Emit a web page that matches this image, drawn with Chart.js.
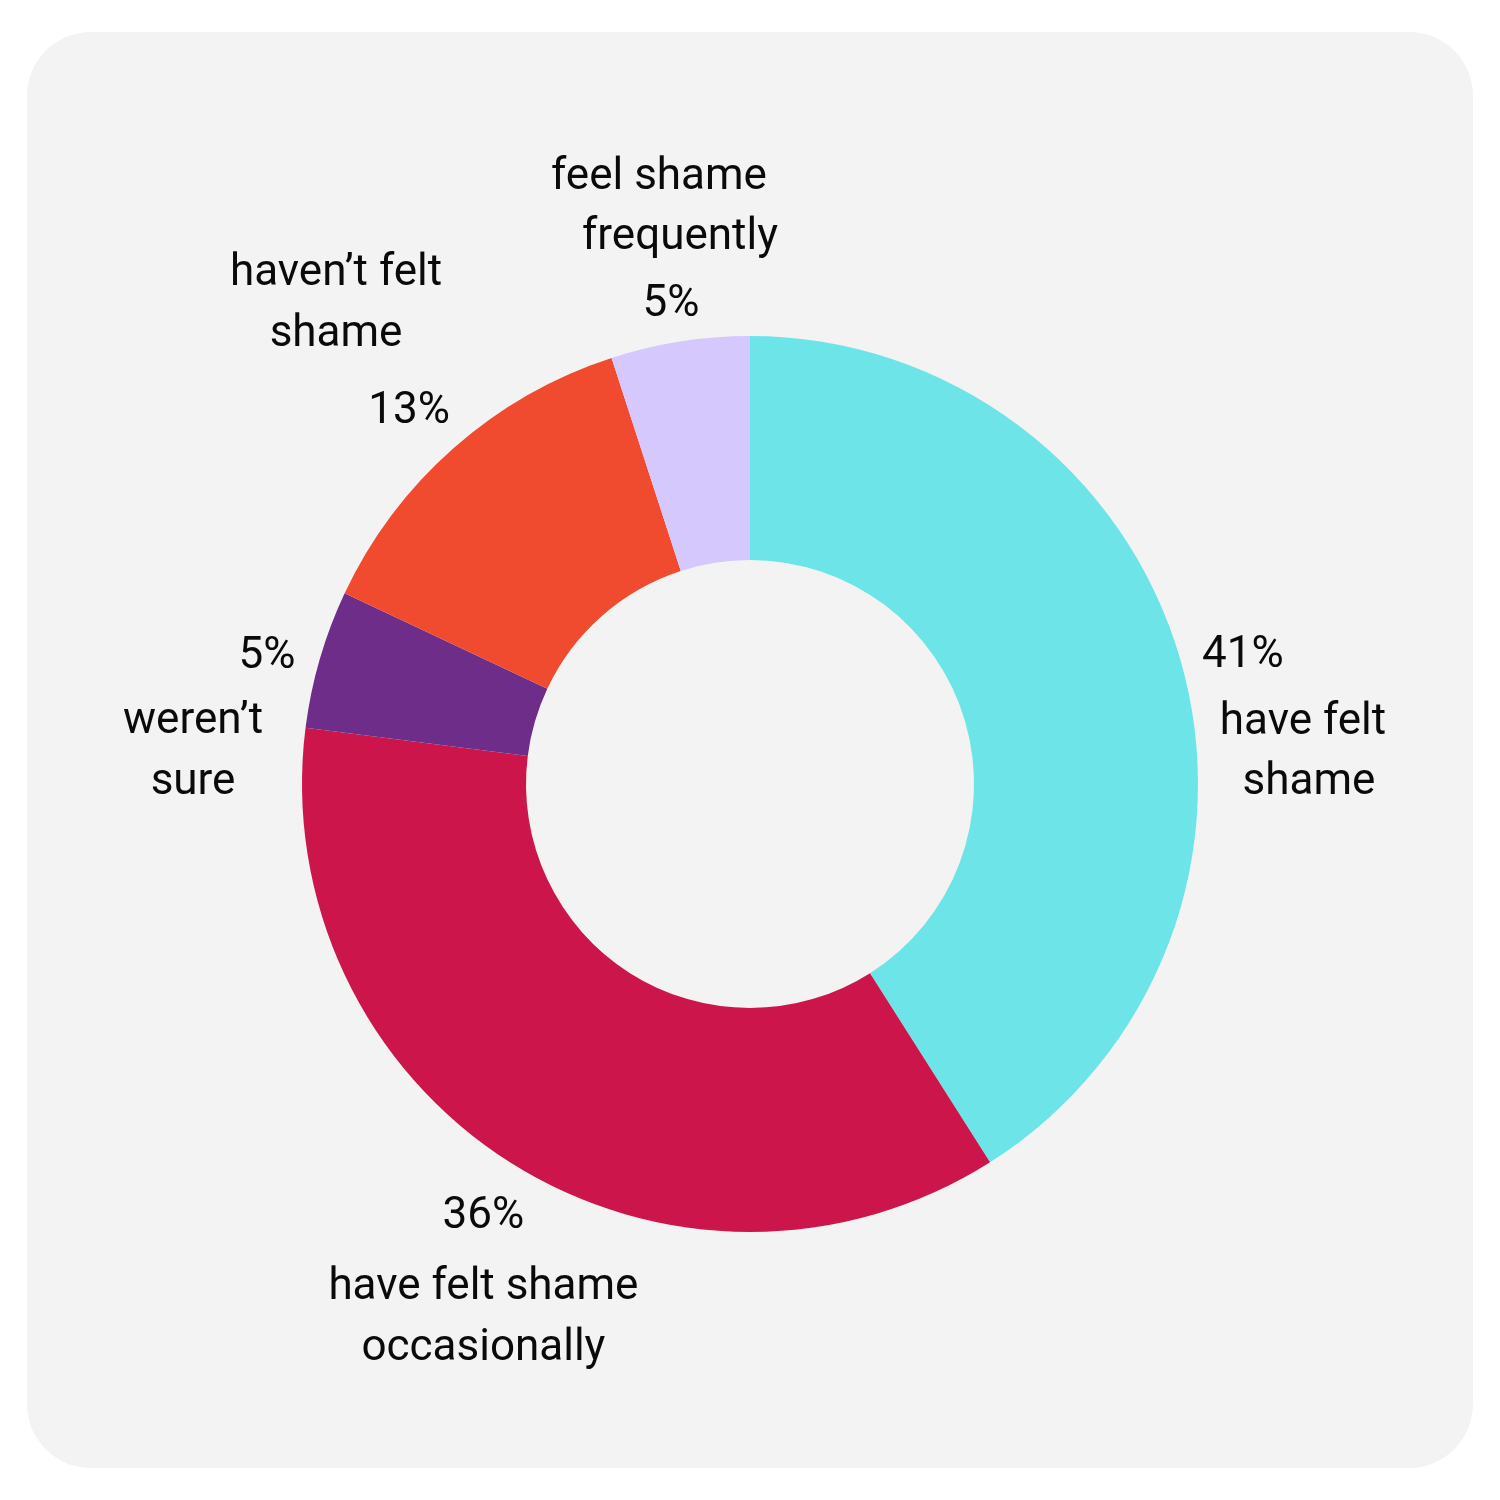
<!DOCTYPE html>
<html>
<head>
<meta charset="utf-8">
<script src="https://cdn.jsdelivr.net/npm/chart.js@4.4.1/dist/chart.umd.min.js"></script>
<style>
  html, body { margin: 0; padding: 0; background: #ffffff; }
  #wrap { width: 1500px; height: 1500px; }
</style>
</head>
<body>
<div id="wrap"><canvas id="c" width="1500" height="1500"></canvas></div>
<script>
// ---- data ----
const categories = [
  "have felt shame",
  "have felt shame occasionally",
  "weren\u2019t sure",
  "haven\u2019t felt shame",
  "feel shame frequently"
];
const values = [41, 36, 5, 13, 5];
const nameLines = [
  ["have felt", "shame"],
  ["have felt shame", "occasionally"],
  ["weren\u2019t", "sure"],
  ["haven\u2019t felt", "shame"],
  ["feel shame", "frequently"]
];
const colors = ["#6de5e8", "#cc164b", "#6e2d88", "#f04a2f", "#d4c8fd"];

// ---- label layout (offsets from slice mid-angle anchor, baseline) ----
const labelLayout = [
  { pct: [8, 24],  names: [[68, 91], [74, 151]] },
  { pct: [4, 18],  names: [[4, 89], [4, 150]] },
  { pct: [2, 25],  names: [[-72, 90], [-72, 151]] },
  { pct: [-7, 18], names: [[-80, -120], [-80, -59]] },
  { pct: [0, 31],  names: [[-12, -96], [9, -36]] }
];

const panelPlugin = {
  id: 'panel',
  beforeDraw(chart) {
    const ctx = chart.ctx;
    ctx.save();
    ctx.fillStyle = '#ffffff';
    ctx.fillRect(0, 0, chart.width, chart.height);
    const x = 27, y = 32, w = 1446, h = 1436, r = 64;
    ctx.beginPath();
    ctx.moveTo(x + r, y);
    ctx.lineTo(x + w - r, y);
    ctx.arcTo(x + w, y, x + w, y + r, r);
    ctx.lineTo(x + w, y + h - r);
    ctx.arcTo(x + w, y + h, x + w - r, y + h, r);
    ctx.lineTo(x + r, y + h);
    ctx.arcTo(x, y + h, x, y + h - r, r);
    ctx.lineTo(x, y + r);
    ctx.arcTo(x, y, x + r, y, r);
    ctx.closePath();
    ctx.fillStyle = '#f3f3f3';
    ctx.fill();
    ctx.restore();
  }
};

const labelPlugin = {
  id: 'sliceLabels',
  afterDatasetsDraw(chart) {
    const ctx = chart.ctx;
    const meta = chart.getDatasetMeta(0);
    ctx.save();
    ctx.font = '44px Roboto';
    ctx.fillStyle = '#0a0a0a';
    ctx.textAlign = 'center';
    ctx.textBaseline = 'alphabetic';
    meta.data.forEach((arc, i) => {
      const p = arc.getProps(['x', 'y', 'startAngle', 'endAngle', 'outerRadius'], true);
      const mid = (p.startAngle + p.endAngle) / 2;
      const rr = p.outerRadius + 57;
      const ax = p.x + Math.cos(mid) * rr;
      const ay = p.y + Math.sin(mid) * rr;
      const L = labelLayout[i];
      ctx.fillText(values[i] + '%', ax + L.pct[0], ay + L.pct[1]);
      nameLines[i].forEach((t, j) => {
        ctx.fillText(t, ax + L.names[j][0], ay + L.names[j][1]);
      });
    });
    ctx.restore();
  }
};

new Chart(document.getElementById('c'), {
  type: 'doughnut',
  data: {
    labels: categories,
    datasets: [{
      data: values,
      backgroundColor: colors,
      borderWidth: 0,
      hoverOffset: 0
    }]
  },
  options: {
    responsive: false,
    animation: false,
    cutout: '50%',
    rotation: 0,
    layout: { padding: { left: 302, right: 302, top: 336, bottom: 268 } },
    plugins: {
      legend: { display: false },
      tooltip: { enabled: false },
      title: { display: false }
    },
    events: []
  },
  plugins: [panelPlugin, labelPlugin]
});
</script>
</body>
</html>
